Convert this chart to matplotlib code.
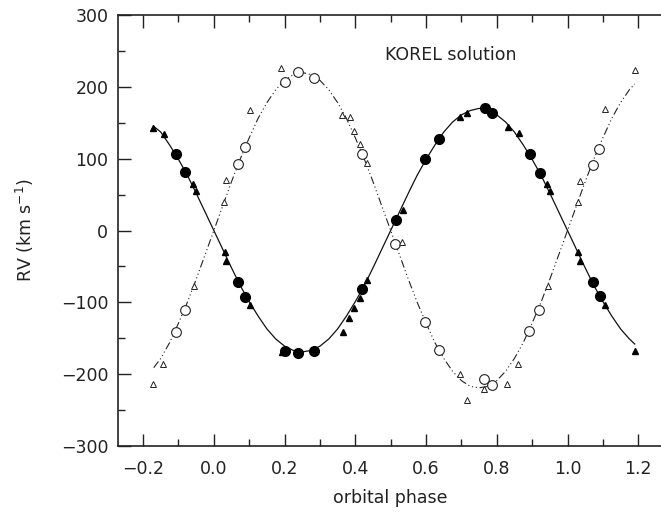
import matplotlib
matplotlib.use('Agg')
import matplotlib.pyplot as plt
from matplotlib.ticker import MultipleLocator

# primary star: filled circles (KOREL solution) and filled triangles
p_circ_phase = [-0.107, -0.081, 0.067, 0.088, 0.202, 0.239, 0.284, 0.418, 0.515, 0.596,
                0.637, 0.767, 0.786, 0.894, 0.921, 1.071, 1.091]
p_circ_rv = [107, 81, -71, -92, -168, -171, -168, -81, 14, 99,
             128, 171, 163, 106, 80, -71, -91]
p_tri_phase = [-0.171, -0.140, -0.059, -0.050, 0.032, 0.034, 0.103, 0.192, 0.364, 0.383,
               0.397, 0.412, 0.434, 0.536, 0.697, 0.715, 0.833, 0.863, 0.943, 0.951,
               1.031, 1.036, 1.105, 1.191]
p_tri_rv = [142, 135, 65, 55, -30, -42, -104, -169, -141, -122,
            -108, -94, -69, 28, 158, 164, 144, 136, 65, 55,
            -30, -42, -104, -168]

# secondary star: open circles and open triangles
s_circ_phase = [-0.107, -0.081, 0.068, 0.089, 0.202, 0.239, 0.282, 0.418, 0.513, 0.596,
                0.637, 0.765, 0.786, 0.892, 0.920, 1.071, 1.090]
s_circ_rv = [-141, -111, 92, 116, 207, 221, 212, 106, -19, -128,
             -167, -207, -215, -140, -111, 91, 114]
s_tri_phase = [-0.171, -0.143, -0.055, 0.030, 0.035, 0.103, 0.189, 0.362, 0.385, 0.397,
               0.414, 0.434, 0.532, 0.695, 0.715, 0.765, 0.830, 0.861, 0.944, 1.031,
               1.036, 1.105, 1.191]
s_tri_rv = [-214, -186, -77, 39, 70, 168, 226, 161, 158, 138,
            121, 94, -16, -200, -236, -221, -214, -186, -77, 39,
            69, 169, 224]

# fitted curves
curve_phase = [-0.17, -0.15, -0.125, -0.10, -0.075, -0.05, -0.025, 0.00, 0.025, 0.05,
               0.075, 0.10, 0.125, 0.15, 0.175, 0.20, 0.225, 0.25, 0.275, 0.30,
               0.325, 0.35, 0.375, 0.40, 0.425, 0.45, 0.475, 0.50, 0.525, 0.55,
               0.575, 0.60, 0.625, 0.65, 0.675, 0.70, 0.725, 0.75, 0.775, 0.80,
               0.825, 0.85, 0.875, 0.90, 0.925, 0.95, 0.975, 1.00, 1.025, 1.05,
               1.075, 1.10, 1.125, 1.15, 1.175, 1.19]
curve_p = [145, 137, 119, 99, 77, 52, 26, 0, -26, -52,
           -77, -99, -119, -137, -151, -161, -167, -169, -167, -161,
           -151, -137, -119, -99, -77, -52, -26, 0, 26, 52,
           77, 99, 119, 137, 151, 161, 167, 170, 168, 161,
           151, 137, 119, 99, 77, 52, 26, 0, -26, -52,
           -77, -99, -119, -137, -151, -158]
curve_s = [-191, -178, -156, -129, -100, -68, -34, 0, 34, 68,
           100, 129, 156, 178, 196, 209, 217, 220, 217, 209,
           196, 178, 156, 129, 100, 68, 34, 0, -34, -68,
           -100, -129, -156, -178, -196, -209, -217, -219, -217, -209,
           -196, -178, -156, -129, -100, -68, -34, 0, 34, 68,
           100, 129, 156, 178, 196, 204]

plt.rcParams['font.family'] = 'DejaVu Sans'
tc = '#222222'

fig = plt.figure(figsize=(6.61, 5.12), dpi=100)
ax = fig.add_axes([118 / 661, 66 / 512, 545 / 661, 431 / 512])

ax.plot(curve_phase, curve_p, color='#111111', lw=0.9, ls='-')
ax.plot(curve_phase, curve_s, color='#222222', lw=0.8,
        ls=(0, (7, 2.5, 1, 2.5, 1, 2.5, 1, 2.5)))

ax.plot(p_circ_phase, p_circ_rv, 'o', ms=7, color='black', mec='black')
ax.plot(p_tri_phase, p_tri_rv, '^', ms=4, color='black', mec='black')
ax.plot(s_circ_phase, s_circ_rv, 'o', ms=7, mfc='white', mec='#222222', mew=0.8)
ax.plot(s_tri_phase, s_tri_rv, '^', ms=4.2, mfc='white', mec='#222222', mew=0.7)

ax.set_xlim(-0.271, 1.27)
ax.set_ylim(-300, 300)
ax.xaxis.set_major_locator(MultipleLocator(0.2))
ax.xaxis.set_minor_locator(MultipleLocator(0.1))
ax.yaxis.set_major_locator(MultipleLocator(100))
ax.yaxis.set_minor_locator(MultipleLocator(50))
ax.tick_params(which='both', direction='in', top=True, right=False, color='#222222')
ax.tick_params(which='major', length=9, width=1.0, labelsize=12.5, labelcolor=tc)
ax.tick_params(axis='x', which='major', pad=10)
ax.tick_params(axis='y', which='major', pad=7)
ax.tick_params(which='minor', length=5, width=1.0)
for s in ax.spines.values():
    s.set_linewidth(1.2)
    s.set_color('#222222')

ax.set_xlabel('orbital phase', fontsize=12.5, color=tc, labelpad=8)
ax.set_ylabel('RV (km s$^{-1}$)', fontsize=12.5, color=tc, labelpad=18)
ax.text(0.671, 244, 'KOREL solution', fontsize=12.5, color=tc, ha='center', va='center')

fig.savefig('out.png', dpi=100)
